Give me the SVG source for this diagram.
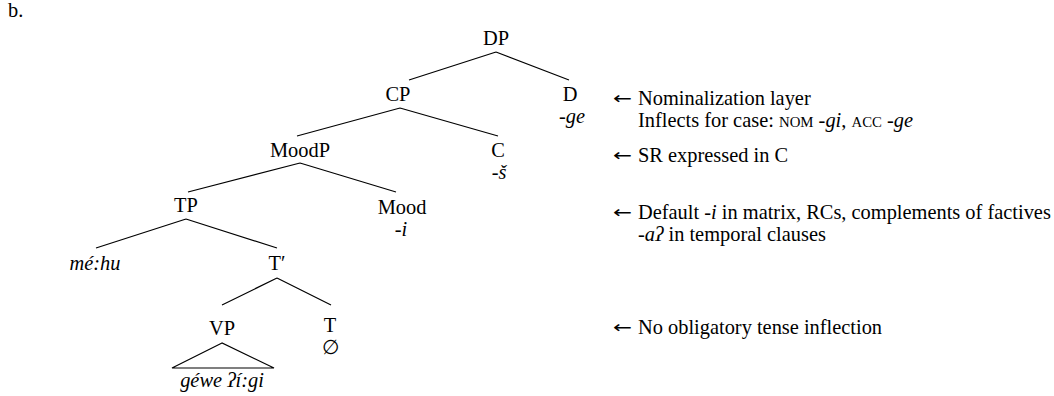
<svg xmlns="http://www.w3.org/2000/svg" width="1054" height="396" viewBox="0 0 1054 396" font-family="'Liberation Serif', 'Times New Roman', Times, serif" font-size="20.4">
  <style>
    text { fill: #000; }
    .lab { text-anchor: middle; }
    .it { font-style: italic; }
    .sc { font-size: 14.8px; }
    .arr { font-family: "DejaVu Sans", sans-serif; font-size: 17px; }
    .edge { stroke: #000; stroke-width: 1.2; fill: none; }
  </style>
  <rect width="1054" height="396" fill="#fff"/>
  <text x="8" y="17">b.</text>

  <!-- tree edges -->
  <g id="edges">
    <path class="edge" d="M496 52 L409 80 M496 52 L569 80"/>
    <path class="edge" d="M400 108 L297 136 M400 108 L498 136"/>
    <path class="edge" d="M300 163 L188 192 M300 163 L396 192"/>
    <path class="edge" d="M186 219 L96 248 M186 219 L277 248"/>
    <path class="edge" d="M277 278 L222 305 M277 278 L331 305"/>
    <path class="edge" d="M222 343 L172 368 L274 368 Z"/>
  </g>

  <g id="n-DP"><text class="lab" x="496" y="45">DP</text></g>
  <g id="n-CP"><text class="lab" x="398" y="101">CP</text></g>
  <g id="n-D"><text class="lab" x="570" y="101">D</text><text class="lab it" x="572" y="123">-ge</text></g>
  <g id="n-MoodP"><text class="lab" x="300" y="157">MoodP</text></g>
  <g id="n-C"><text class="lab" x="498" y="157">C</text><text class="lab it" x="499" y="179">-š</text></g>
  <g id="n-TP"><text class="lab" x="186" y="212">TP</text></g>
  <g id="n-Mood"><text class="lab" x="402" y="214">Mood</text><text class="lab it" x="401" y="236">-i</text></g>
  <g id="n-mehu"><text class="lab it" x="95" y="270">mé:hu</text></g>
  <g id="n-Tbar"><text class="lab" x="277" y="270">T′</text></g>
  <g id="n-VP"><text class="lab" x="222" y="335">VP</text></g>
  <g id="n-T"><text class="lab" x="330" y="332">T</text><text class="lab" x="330" y="354">∅</text></g>
  <g id="n-gewe"><text class="lab it" x="222" y="387">géwe ʔí:gi</text></g>

  <!-- annotations -->
  <g id="notes">
    <text class="arr" x="613" y="104" textLength="19" lengthAdjust="spacingAndGlyphs">←</text>
    <text x="638" y="105">Nominalization layer</text>
    <text x="638" y="127">Inflects for case: <tspan class="sc">NOM</tspan> <tspan class="it">-gi</tspan>, <tspan class="sc">ACC</tspan> <tspan class="it">-ge</tspan></text>
    <text class="arr" x="613" y="161" textLength="19" lengthAdjust="spacingAndGlyphs">←</text>
    <text x="638" y="162">SR expressed in C</text>
    <text class="arr" x="613" y="218" textLength="19" lengthAdjust="spacingAndGlyphs">←</text>
    <text x="638" y="219">Default <tspan class="it">-i</tspan> in matrix, RCs, complements of factives</text>
    <text x="638" y="241"><tspan class="it">-aʔ</tspan> in temporal clauses</text>
    <text class="arr" x="613" y="333" textLength="19" lengthAdjust="spacingAndGlyphs">←</text>
    <text x="638" y="334">No obligatory tense inflection</text>
  </g>
</svg>
